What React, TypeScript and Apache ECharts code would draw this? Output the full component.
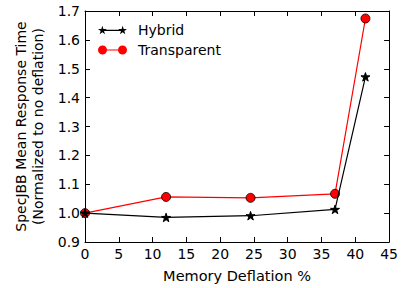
import React, { useEffect, useRef } from "react";
import * as echarts from "echarts";

const xValues = [0, 12, 24.5, 37, 41.5];
const hybrid = [1.0, 0.985, 0.991, 1.013, 1.472];
const transparent = [1.0, 1.056, 1.053, 1.067, 1.674];
const seriesNames = ["Hybrid", "Transparent"];
const xAxisName = "Memory Deflation %";
const yAxisName = "SpecJBB Mean Response Time\n(Normalized to no deflation)";

const STAR =
  "path://M0,-100 L22.45,-30.9 L95.1,-30.9 L36.3,11.8 L58.8,80.9 L0,38.2 L-58.8,80.9 L-36.3,11.8 L-95.1,-30.9 L-22.45,-30.9 Z";

function starAt(cx: number, cy: number, r: number) {
  const pts: string[] = [];
  for (let i = 0; i < 10; i++) {
    const a = -Math.PI / 2 + (i * Math.PI) / 5;
    const rr = i % 2 === 0 ? r : r * 0.382;
    pts.push(`${(cx + rr * Math.cos(a)).toFixed(2)},${(cy + rr * Math.sin(a)).toFixed(2)}`);
  }
  return "M" + pts.join(" L") + " Z";
}
const LEG_HYBRID =
  "path://" + starAt(45, 50, 45) + " " + starAt(245, 50, 45) + " M45,44 L245,44 L245,56 L45,56 Z";
const LEG_TRANSP =
  "path://M0,50 A45,45 0 1,1 90,50 A45,45 0 1,1 0,50 Z M200,50 A45,45 0 1,1 290,50 A45,45 0 1,1 200,50 Z M45,44 L245,44 L245,56 L45,56 Z";

export default function App() {
  const ref = useRef<HTMLDivElement>(null);
  useEffect(() => {
    const chart = echarts.init(ref.current!, null, { renderer: "svg" });
    const font = "DejaVu Sans";
    const tickLabel = { color: "#000", fontFamily: font, fontSize: 14 };
    const baseX = {
      type: "value" as const,
      min: 0,
      max: 45,
      interval: 5,
      splitLine: { show: false },
      axisLine: { show: true, onZero: false, lineStyle: { color: "#000", width: 1 } },
      axisTick: { show: true, inside: true, length: 5, lineStyle: { color: "#000" } },
    };
    const baseY = {
      type: "value" as const,
      min: 0.9,
      max: 1.7,
      interval: 0.1,
      splitLine: { show: false },
      axisLine: { show: true, onZero: false, lineStyle: { color: "#000", width: 1 } },
      axisTick: { show: true, inside: true, length: 5, lineStyle: { color: "#000" } },
    };
    chart.setOption({
      animation: false,
      backgroundColor: "#fff",
      grid: { left: 85, right: 11, top: 11, bottom: 46 },
      legend: {
        left: 98,
        top: 23,
        padding: 0,
        orient: "vertical",
        itemGap: 6,
        itemWidth: 29,
        itemHeight: 14,
        textStyle: { color: "#000", fontFamily: font, fontSize: 14, padding: [0, 0, 0, 6] },
        data: [
          { name: seriesNames[0], icon: LEG_HYBRID, itemStyle: { color: "#000", borderWidth: 0 } },
          { name: seriesNames[1], icon: LEG_TRANSP, itemStyle: { color: "#f00", borderWidth: 0 } },
        ],
      },
      xAxis: [
        {
          ...baseX,
          position: "bottom",
          name: xAxisName,
          nameLocation: "middle",
          nameGap: 26,
          nameTextStyle: { color: "#000", fontFamily: font, fontSize: 14.5 },
          axisLabel: { ...tickLabel, margin: 5 },
        },
        { ...baseX, position: "top", axisLabel: { show: false } },
      ],
      yAxis: [
        {
          ...baseY,
          position: "left",
          name: yAxisName,
          nameLocation: "middle",
          nameGap: 38,
          nameTextStyle: { color: "#000", fontFamily: font, fontSize: 14, lineHeight: 17 },
          axisLabel: { ...tickLabel, margin: 5, formatter: (v: number) => v.toFixed(1) },
        },
        { ...baseY, position: "right", axisLabel: { show: false } },
      ],
      series: [
        {
          name: seriesNames[0],
          type: "line",
          data: xValues.map((x, i) => [x, hybrid[i]]),
          symbol: STAR,
          symbolSize: 9,
          symbolKeepAspect: true,
          lineStyle: { color: "#000", width: 1.2 },
          itemStyle: { color: "#000", borderColor: "#000" },
          z: 3,
        },
        {
          name: seriesNames[1],
          type: "line",
          data: xValues.map((x, i) => [x, transparent[i]]),
          symbol: "circle",
          symbolSize: 9,
          lineStyle: { color: "#f00", width: 1.2 },
          itemStyle: { color: "#f00", borderColor: "#000", borderWidth: 0.8 },
          z: 2,
        },
      ],
    });
    return () => chart.dispose();
  }, []);
  return <div ref={ref} style={{ width: 401, height: 288, position: "absolute", left: 0, top: 0 }} />;
}
